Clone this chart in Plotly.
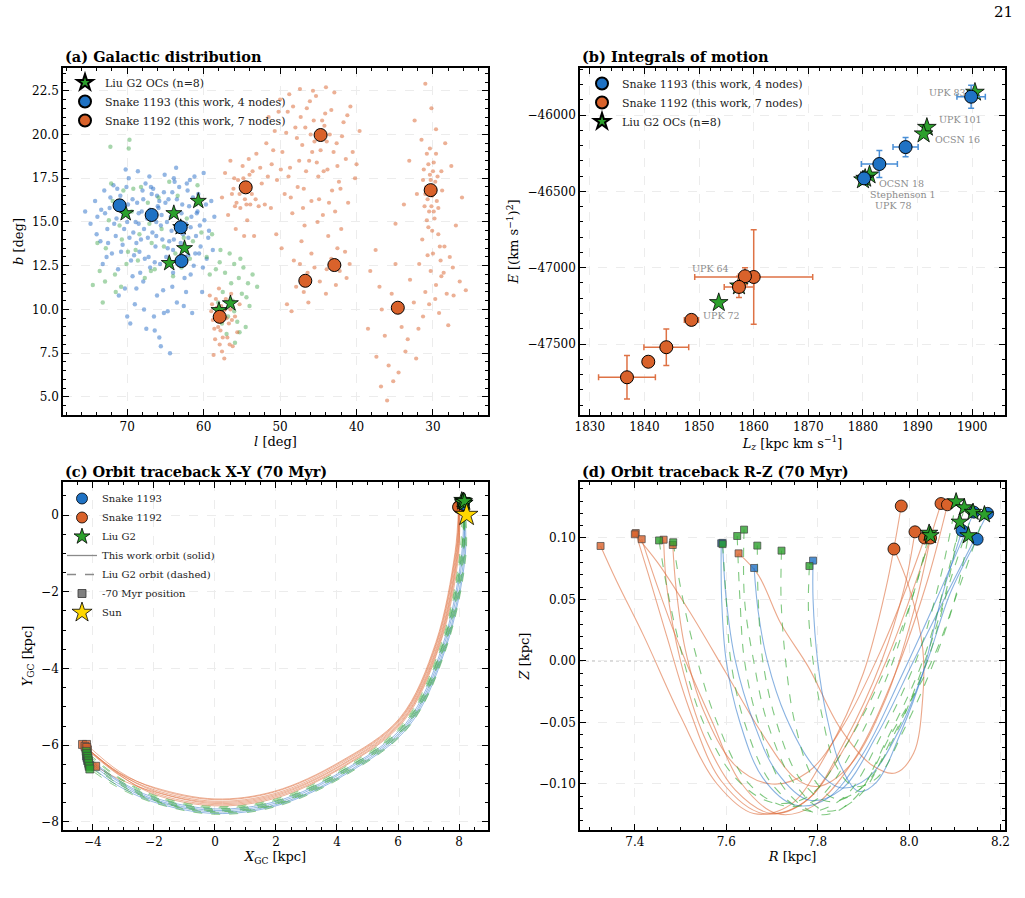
import plotly.graph_objects as go

SERIF = "DejaVu Serif"
BLUE = "#1f72c4"
ORANGE = "#d9622b"
GREEN = "#2ca02c"

# ---------------- (a) Galactic distribution ----------------
a_blue_cloud_l = [75.5,74.8,74.2,73.9,73.5,73.0,72.6,72.3,72.0,71.8,71.5,71.2,70.9,70.6,70.3,70.0,69.8,69.5,69.2,69.0,68.7,68.4,68.1,67.9,67.6,67.3,67.0,66.8,66.5,66.3,66.0,65.8,65.6,65.3,65.1,64.9,64.6,64.4,64.2,64.0,63.7,63.5,63.2,63.0,62.8,62.5,62.3,62.0,61.8,61.6,61.3,61.0,60.7,60.4,60.2,59.9,59.6,59.3,59.0,58.8,71.4,69.9,68.9,67.8,66.9,66.2,65.5,64.8,63.9,63.3,62.7,61.9,65.7,67.2,68.3,70.4,72.9,64.1,62.1,60.9,66.6,68.6,70.2,63.6,60.0,69.6,67.5,66.1,68.8,71.1,64.7,62.6,61.5,73.2,
                  74.0,73.4,72.7,72.2,71.7,71.3,70.8,70.5,70.1,69.7,69.3,68.8,68.5,68.0,67.7,67.4,67.1,66.7,66.4,66.1,65.9,65.4,65.0,64.7,64.3,63.8,63.4,63.1,62.9,62.4,62.2,61.7,61.4,61.1,60.8,60.5,60.1,59.7,59.4,58.6,69.1,67.9,66.2,65.2,64.5,63.5,62.0,61.2,68.2,70.7,72.5,66.9,64.0,62.7,60.6,65.8,67.0,68.5,63.9,61.7,
                  66.4,65.2,67.8,69.3,64.1,62.3,70.0,65.6]
a_blue_cloud_b = [15.6,14.9,16.2,15.3,13.9,16.8,14.6,15.8,13.2,17.1,14.2,12.3,16.5,13.7,11.2,15.0,17.5,12.8,14.4,10.3,16.1,13.3,15.6,11.6,17.2,14.1,12.4,16.6,9.6,13.6,15.9,8.4,14.8,11.1,17.7,13.0,16.3,7.5,14.5,12.1,15.6,10.4,17.0,13.8,16.0,11.8,14.9,13.1,17.4,15.3,12.5,14.2,16.6,13.6,11.0,15.1,12.9,14.5,16.2,13.4,15.2,16.0,15.0,14.6,15.1,14.2,15.4,15.0,14.0,12.9,13.4,15.9,12.6,13.0,12.1,14.6,15.5,16.7,16.8,15.5,16.9,17.9,18.0,18.1,17.8,9.2,8.9,10.8,11.2,10.8,9.9,10.2,9.8,12.6,
                  14.3,15.7,13.0,16.4,14.9,16.9,13.3,15.4,17.0,14.1,16.3,13.8,14.9,16.8,12.9,15.2,17.6,14.4,12.7,16.5,15.8,14.0,16.1,13.5,15.3,17.3,14.6,12.6,15.5,13.0,17.2,14.7,16.4,13.2,15.6,14.8,12.4,16.0,14.1,15.3,13.1,16.3,15.0,16.7,13.9,16.3,14.1,17.6,14.0,15.9,13.8,17.0,13.4,14.3,13.2,16.2,15.7,15.5,17.5,12.0,
                  8.8,9.8,10.0,11.9,11.3,11.0,9.6,7.9]
a_green_cloud_l = [72.2,69.8,69.7,74.5,73.2,73.6,72.8,72.1,71.6,71.0,70.5,70.1,69.4,68.9,68.2,67.7,67.1,66.4,65.9,65.2,64.5,64.0,63.4,62.9,62.2,61.4,60.8,60.3,59.6,58.9,58.4,57.8,57.2,56.6,56.0,55.4,54.8,54.2,53.6,53.0,57.5,56.2,55.0,54.0,56.8,55.6,58.1,57.0,55.9,54.5,70.8,72.4,68.6,66.8,
                   71.9,71.2,70.7,69.9,69.2,68.4,67.3,66.9,65.5,64.8,63.7,62.6,61.8,61.0,59.2,57.9,56.4,55.2,54.4,56.0,57.6,55.3,73.9,72.9,71.5]
a_green_cloud_b = [19.3,19.2,19.7,11.4,10.4,12.2,13.5,17.2,12.0,14.8,16.8,12.6,15.6,13.4,17.0,11.8,14.9,12.3,16.4,13.6,17.3,11.9,16.5,12.4,15.2,13.9,17.1,14.4,13.0,14.3,12.3,13.4,12.1,13.2,12.6,11.8,12.4,11.5,12.0,11.3,11.0,10.5,10.9,10.2,9.6,9.3,10.4,8.6,8.1,9.0,11.3,15.1,12.8,13.8,
                   16.2,15.9,14.0,13.3,16.9,14.3,16.1,12.2,14.6,12.6,13.2,14.1,12.9,16.0,12.0,12.7,11.5,12.9,10.7,9.9,9.2,8.7,13.8,11.6,11.0]
a_orange_cloud_l = [59.2,58.8,58.5,58.3,58.0,57.8,57.6,57.4,57.1,56.9,56.7,56.4,56.2,55.9,55.6,58.7,57.3,59.0,58.1,57.0,56.5,58.4,57.7,55.3,
                    57.6,57.2,56.8,56.5,56.1,55.8,55.5,55.2,54.9,54.6,54.3,54.0,53.7,53.4,53.1,52.8,52.4,52.0,55.0,54.2,55.7,53.9,56.3,54.7,
                    51.8,51.5,51.1,50.7,50.4,50.0,49.7,49.4,49.0,48.7,48.4,48.0,47.7,47.4,47.1,46.8,46.5,46.2,45.9,45.6,45.3,45.0,44.7,44.4,44.1,43.8,43.5,43.2,42.9,42.6,42.3,42.0,41.7,41.4,41.1,40.8,40.5,40.2,45.5,44.2,46.0,43.0,47.8,48.9,46.9,45.1,43.7,47.2,48.2,46.4,44.8,43.3,42.2,41.5,45.9,47.9,49.1,44.0,42.7,40.9,46.3,48.5,50.5,51.2,49.8,
                    31.0,30.2,32.4,29.6,31.5,28.4,30.8,29.9,31.2,30.4,29.7,30.9,30.1,29.5,31.1,30.5,29.8,28.8,32.1,27.6,33.1,30.6,29.3,31.4,28.5,30.0,29.0,27.8,31.8,30.3,28.9,29.6,27.4,31.0,28.2,30.5,26.5,29.2,25.7,27.0,26.2,33.8,34.9,
                    38.2,37.5,37.0,36.3,35.8,35.4,34.9,34.1,33.6,33.0,32.5,31.9,37.4,36.8,36.0,35.2,34.5,33.3,32.2,38.5,36.7,31.3,27.3,28.0,
                    58.6,57.9,57.2,56.6,58.2,57.5,56.3,58.9,
                    56.0,55.3,54.8,54.4,53.6,55.9,54.1,53.2,52.6,51.6,
                    50.2,49.2,48.3,47.5,46.7,46.1,45.2,44.5,43.9,43.3,42.5,41.9,41.2,44.9,47.0,42.8,48.6,46.6,45.8,44.3,43.6,42.1,40.0,39.6,50.9,47.3,45.7,44.0,48.8,49.9,
                    47.4,45.5,43.9,42.5,46.9,41.3,
                    30.3,29.8,30.7,30.0,29.4,31.0,30.2,29.9,30.6,29.6,30.8,30.1,29.3,31.3,28.9,30.4,29.1,30.7,28.6,29.7]
a_orange_cloud_b = [10.8,9.4,8.3,10.1,11.2,8.8,7.6,9.9,10.6,8.4,9.2,10.9,7.9,9.6,8.7,7.4,7.2,9.9,9.0,9.5,10.0,10.6,10.2,10.3,
                    16.4,17.8,15.4,18.5,16.9,14.6,17.4,15.8,18.2,16.3,15.1,17.7,16.6,14.2,18.9,15.9,17.2,16.0,16.9,17.1,16.1,16.0,16.6,14.2,
                    19.5,21.0,18.3,20.2,17.4,22.0,19.0,16.6,21.3,18.1,15.5,20.4,17.0,22.6,19.4,14.8,21.5,18.5,16.2,20.8,22.2,17.6,19.1,15.4,21.2,18.0,20.0,16.8,22.4,19.5,17.3,14.6,20.7,18.6,16.1,21.6,19.0,17.5,19.6,20.5,20.0,19.0,19.8,17.6,16.9,15.0,14.2,13.9,12.8,12.1,11.6,12.9,12.2,13.3,13.2,11.3,10.3,10.9,11.4,12.6,10.4,9.9,14.3,15.8,13.5,
                    22.9,21.5,20.8,20.3,19.7,19.5,18.9,18.4,18.0,17.7,17.3,17.0,16.5,16.2,15.9,15.6,15.2,16.8,16.6,18.2,18.5,14.7,14.3,14.0,13.6,13.2,12.8,13.0,12.6,12.2,11.9,11.4,12.4,11.0,10.9,10.3,11.6,9.8,11.1,14.8,16.4,16.0,14.9,
                    12.2,13.4,11.3,8.5,6.8,10.9,12.6,9.0,7.6,11.7,10.4,8.9,7.3,5.6,4.8,5.9,6.4,8.3,7.2,8.9,10.0,9.6,10.8,9.1,
                    8.9,8.0,10.0,8.0,9.6,8.4,9.4,10.3,
                    17.5,16.6,17.5,16.0,17.9,15.9,18.6,16.3,18.1,17.6,
                    21.3,20.1,21.6,18.5,20.4,21.9,18.4,20.8,19.6,21.4,18.2,19.9,21.1,16.3,15.8,15.6,16.4,17.9,19.0,17.9,16.1,16.9,18.3,20.2,19.1,21.0,22.5,22.7,22.3,18.0,
                    12.6,12.4,12.3,13.5,11.0,11.8,
                    17.4,16.9,16.3,17.9,17.6,16.6,15.9,15.6,18.3,18.9,15.1,14.5,15.8,17.4,17.9,19.2,13.6,13.1,12.1,10.6]
a_liu_l = [70.2, 63.9, 60.7, 62.5, 64.5, 56.5, 58.0, 63.0]
a_liu_b = [15.5, 15.5, 16.2, 13.5, 12.65, 10.35, 9.96, 14.7]
a_s1193_l = [71.0, 66.8, 63.0, 62.9]
a_s1193_b = [15.95, 15.4, 14.7, 12.77]
a_s1192_l = [54.5, 44.7, 30.3, 57.9, 46.7, 42.9, 34.6]
a_s1192_b = [16.98, 19.97, 16.82, 9.58, 11.64, 12.54, 10.1]

# ---------------- (b) Integrals of motion ----------------
b_s1193_Lz = [1899.8, 1887.8, 1883.0, 1880.2]
b_s1193_E = [-45880, -46210, -46321, -46415]
b_s1193_Lz_err = [2.6, 2.3, 3.3, 0.8]
b_s1193_E_err = [75, 63, 89, 20]
b_s1192_Lz = [1860.0, 1858.4, 1857.3, 1848.6, 1844.0, 1840.7, 1836.8]
b_s1192_E = [-47061, -47056, -47126, -47342, -47521, -47616, -47718]
b_s1192_Lz_err = [10.8, 1.2, 2.7, 1.3, 4.1, 1.0, 5.2]
b_s1192_E_err = [310, 55, 70, 25, 119, 20, 143]
b_liu_names = ["UPK 83", "UPK 101", "OCSN 16", "OCSN 18", "Stephenson 1", "UPK 78", "UPK 64", "UPK 72"]
b_liu_Lz = [1900.5, 1891.7, 1891.1, 1881.2, 1880.4, 1880.0, 1857.3, 1853.6]
b_liu_E = [-45851, -46081, -46124, -46393, -46415, -46425, -47120, -47229]

# ---------------- (c) Orbit traceback X-Y (present -> -70 Myr) ----------------
c_s1192_X = [
    [7.98, 7.87, 7.24, 6.06, 4.10, 1.95, 0.00, -1.95, -3.13, -4.34],
    [8.00, 7.89, 7.26, 6.08, 4.11, 1.95, 0.00, -1.96, -3.12, -4.21],
    [8.02, 7.91, 7.28, 6.10, 4.12, 1.96, 0.00, -1.96, -3.14, -4.23],
    [7.99, 7.93, 7.31, 6.12, 4.14, 1.97, 0.00, -1.97, -3.14, -4.26],
    [8.01, 7.95, 7.33, 6.14, 4.15, 1.97, 0.00, -1.97, -3.20, -3.91],
    [8.03, 7.97, 7.35, 6.15, 4.17, 1.98, 0.00, -1.98, -3.16, -4.18],
    [7.97, 7.99, 7.37, 6.17, 4.18, 1.99, 0.00, -1.99, -3.15, -4.20]]
c_s1192_Y = [
    [0.19, -0.97, -3.32, -5.29, -6.43, -7.20, -7.40, -7.11, -6.72, -5.98],
    [0.22, -0.97, -3.33, -5.30, -6.45, -7.22, -7.42, -7.13, -6.69, -5.98],
    [0.18, -0.98, -3.34, -5.31, -6.48, -7.26, -7.46, -7.17, -6.74, -6.08],
    [0.24, -0.98, -3.35, -5.33, -6.51, -7.29, -7.49, -7.20, -6.73, -6.03],
    [0.20, -0.99, -3.36, -5.35, -6.53, -7.32, -7.52, -7.22, -6.86, -6.55],
    [0.23, -0.99, -3.38, -5.37, -6.56, -7.35, -7.55, -7.25, -6.77, -6.12],
    [0.21, -1.00, -3.39, -5.39, -6.58, -7.38, -7.58, -7.28, -6.76, -6.06]]
c_s1193_X = [
    [8.14, 8.09, 7.45, 6.25, 4.23, 2.02, 0.00, -2.02, -3.21, -4.21],
    [8.16, 8.13, 7.49, 6.28, 4.25, 2.03, 0.00, -2.03, -3.22, -4.19],
    [8.12, 8.17, 7.53, 6.31, 4.28, 2.04, 0.00, -2.04, -3.25, -4.17],
    [8.15, 8.21, 7.56, 6.34, 4.30, 2.05, 0.00, -2.05, -3.27, -4.12]]
c_s1193_Y = [
    [0.32, -1.01, -3.43, -5.44, -6.65, -7.46, -7.66, -7.36, -6.89, -6.28],
    [0.29, -1.01, -3.44, -5.47, -6.68, -7.50, -7.70, -7.40, -6.92, -6.33],
    [0.30, -1.02, -3.46, -5.49, -6.72, -7.54, -7.74, -7.43, -6.96, -6.40],
    [0.27, -1.02, -3.48, -5.52, -6.75, -7.57, -7.78, -7.47, -7.01, -6.52]]
c_liu_X = [
    [8.09, 8.03, 7.40, 6.20, 4.20, 2.00, 0.00, -2.00, -3.18, -4.22],
    [8.20, 8.06, 7.43, 6.22, 4.22, 2.01, 0.00, -2.01, -3.19, -4.20],
    [8.12, 8.08, 7.45, 6.24, 4.23, 2.01, 0.00, -2.01, -3.21, -4.17],
    [8.15, 8.11, 7.47, 6.26, 4.24, 2.02, 0.00, -2.02, -3.22, -4.16],
    [8.17, 8.14, 7.50, 6.28, 4.26, 2.03, 0.00, -2.03, -3.24, -4.15],
    [8.11, 8.16, 7.52, 6.30, 4.27, 2.03, 0.00, -2.03, -3.25, -4.14],
    [8.14, 8.19, 7.55, 6.32, 4.29, 2.04, 0.00, -2.04, -3.27, -4.12],
    [8.18, 8.23, 7.58, 6.35, 4.31, 2.05, 0.00, -2.05, -3.29, -4.10]]
c_liu_Y = [
    [0.39, -1.00, -3.40, -5.40, -6.60, -7.40, -7.60, -7.30, -6.82, -6.16],
    [0.32, -1.00, -3.41, -5.42, -6.63, -7.43, -7.63, -7.33, -6.84, -6.22],
    [0.36, -1.01, -3.42, -5.43, -6.64, -7.45, -7.65, -7.35, -6.88, -6.29],
    [0.34, -1.01, -3.43, -5.45, -6.67, -7.48, -7.68, -7.38, -6.91, -6.35],
    [0.30, -1.01, -3.45, -5.47, -6.69, -7.51, -7.71, -7.41, -6.94, -6.41],
    [0.33, -1.02, -3.45, -5.49, -6.71, -7.53, -7.73, -7.43, -6.97, -6.47],
    [0.38, -1.02, -3.47, -5.51, -6.74, -7.55, -7.76, -7.45, -7.01, -6.55],
    [0.36, -1.02, -3.48, -5.53, -6.77, -7.59, -7.80, -7.49, -7.05, -6.62]]
sun_X = [8.25]
sun_Y = [0.0]

# ---------------- (d) Orbit traceback R-Z (-70 Myr -> present) ----------------
d_s1192_R = [
    [7.325, 7.36, 7.42, 7.50, 7.58, 7.66, 7.74, 7.82, 7.90, 7.95, 7.983],
    [7.402, 7.43, 7.47, 7.52, 7.59, 7.68, 7.77, 7.86, 7.95, 8.02, 8.070],
    [7.415, 7.45, 7.50, 7.57, 7.63, 7.71, 7.79, 7.88, 7.97, 8.04, 8.084],
    [7.463, 7.47, 7.50, 7.55, 7.62, 7.70, 7.78, 7.86, 7.94, 7.99, 8.013],
    [7.627, 7.67, 7.72, 7.78, 7.85, 7.92, 7.97, 8.01, 8.03, 8.03, 8.00, 7.967],
    [7.483, 7.49, 7.51, 7.55, 7.62, 7.70, 7.78, 7.86, 7.94, 8.00, 8.034],
    [7.400, 7.45, 7.52, 7.60, 7.68, 7.75, 7.80, 7.87, 7.95, 8.01, 8.047]]
d_s1192_Z = [
    [0.0935, 0.065, 0.02, -0.045, -0.100, -0.124, -0.117, -0.075, -0.010, 0.060, 0.126],
    [0.104, 0.07, 0.02, -0.04, -0.098, -0.124, -0.115, -0.07, 0.000, 0.070, 0.128],
    [0.099, 0.06, 0.01, -0.05, -0.098, -0.124, -0.118, -0.08, -0.010, 0.065, 0.127],
    [0.0986, 0.06, 0.00, -0.06, -0.105, -0.124, -0.112, -0.065, 0.000, 0.060, 0.105],
    [0.0875, 0.07, 0.03, -0.005, -0.055, -0.085, -0.091, -0.075, -0.03, 0.01, 0.06, 0.091],
    [0.0943, 0.06, 0.01, -0.04, -0.085, -0.100, -0.090, -0.05, 0.01, 0.065, 0.100],
    [0.103, 0.08, 0.04, -0.01, -0.06, -0.095, -0.102, -0.085, -0.03, 0.040, 0.100]]
d_s1193_R = [
    [7.589, 7.59, 7.60, 7.63, 7.68, 7.75, 7.82, 7.90, 7.98, 8.06, 8.142],
    [7.592, 7.60, 7.62, 7.66, 7.71, 7.78, 7.85, 7.93, 8.01, 8.09, 8.172],
    [7.661, 7.67, 7.69, 7.73, 7.79, 7.85, 7.91, 7.98, 8.04, 8.09, 8.149],
    [7.790, 7.79, 7.80, 7.82, 7.85, 7.89, 7.93, 7.98, 8.03, 8.07, 8.116]]
d_s1193_Z = [
    [0.0957, 0.05, 0.00, -0.05, -0.095, -0.117, -0.112, -0.075, -0.015, 0.050, 0.121],
    [0.096, 0.05, 0.00, -0.05, -0.09, -0.113, -0.105, -0.06, 0.000, 0.060, 0.120],
    [0.0756, 0.04, 0.00, -0.045, -0.085, -0.103, -0.095, -0.055, 0.000, 0.055, 0.099],
    [0.0816, 0.05, 0.00, -0.045, -0.085, -0.106, -0.098, -0.06, -0.01, 0.050, 0.106]]
d_liu_R = [
    [7.453, 7.47, 7.50, 7.55, 7.62, 7.70, 7.78, 7.86, 7.95, 8.01, 8.044],
    [7.484, 7.50, 7.53, 7.58, 7.65, 7.73, 7.80, 7.88, 7.96, 8.01, 8.047],
    [7.592, 7.60, 7.61, 7.64, 7.70, 7.78, 7.86, 7.94, 8.02, 8.07, 8.103],
    [7.624, 7.63, 7.64, 7.67, 7.73, 7.81, 7.88, 7.95, 8.03, 8.08, 8.121],
    [7.639, 7.64, 7.66, 7.69, 7.75, 7.82, 7.89, 7.96, 8.04, 8.09, 8.140],
    [7.668, 7.67, 7.68, 7.71, 7.76, 7.82, 7.89, 7.96, 8.05, 8.11, 8.165],
    [7.721, 7.72, 7.73, 7.75, 7.79, 7.84, 7.90, 7.97, 8.03, 8.08, 8.111],
    [7.782, 7.78, 7.79, 7.81, 7.84, 7.88, 7.93, 7.99, 8.05, 8.10, 8.130]]
d_liu_Z = [
    [0.098, 0.06, 0.01, -0.05, -0.095, -0.115, -0.110, -0.07, -0.005, 0.055, 0.104],
    [0.0965, 0.06, 0.01, -0.05, -0.100, -0.118, -0.112, -0.07, -0.005, 0.055, 0.102],
    [0.095, 0.05, 0.00, -0.05, -0.100, -0.122, -0.110, -0.06, 0.005, 0.070, 0.1295],
    [0.1016, 0.05, 0.00, -0.05, -0.105, -0.125, -0.112, -0.065, 0.000, 0.065, 0.1247],
    [0.1068, 0.05, 0.00, -0.05, -0.100, -0.122, -0.110, -0.065, 0.000, 0.065, 0.121],
    [0.0938, 0.05, 0.00, -0.05, -0.095, -0.114, -0.105, -0.06, 0.000, 0.060, 0.119],
    [0.0897, 0.05, 0.00, -0.05, -0.095, -0.112, -0.102, -0.06, -0.005, 0.055, 0.113],
    [0.0772, 0.04, 0.00, -0.045, -0.085, -0.102, -0.095, -0.055, -0.005, 0.050, 0.102]]

W, H = 1025, 898

def px_x(p):
    return p / W

def px_y(p):
    return (H - p) / H

fig = go.Figure()

# ----- (a) -----
fig.add_trace(go.Scatter(x=a_blue_cloud_l, y=a_blue_cloud_b, mode="markers", xaxis="x", yaxis="y",
                         marker=dict(size=4.4, color="rgba(40,110,200,0.5)", line=dict(width=0)),
                         showlegend=False, hoverinfo="skip"))
fig.add_trace(go.Scatter(x=a_green_cloud_l, y=a_green_cloud_b, mode="markers", xaxis="x", yaxis="y",
                         marker=dict(size=4.4, color="rgba(60,165,70,0.45)", line=dict(width=0)),
                         showlegend=False, hoverinfo="skip"))
fig.add_trace(go.Scatter(x=a_orange_cloud_l, y=a_orange_cloud_b, mode="markers", xaxis="x", yaxis="y",
                         marker=dict(size=4.2, color="rgba(217,98,43,0.5)", line=dict(width=0)),
                         showlegend=False, hoverinfo="skip"))
fig.add_trace(go.Scatter(x=a_liu_l, y=a_liu_b, mode="markers", xaxis="x", yaxis="y", name="Liu G2 OCs (n=8)",
                         marker=dict(symbol="star", size=12, color=GREEN, line=dict(color="black", width=0.8)),
                         legend="legend"))
fig.add_trace(go.Scatter(x=a_s1193_l, y=a_s1193_b, mode="markers", xaxis="x", yaxis="y",
                         name="Snake 1193 (this work, 4 nodes)",
                         marker=dict(symbol="circle", size=13, color=BLUE, line=dict(color="black", width=1)),
                         legend="legend"))
fig.add_trace(go.Scatter(x=a_s1192_l, y=a_s1192_b, mode="markers", xaxis="x", yaxis="y",
                         name="Snake 1192 (this work, 7 nodes)",
                         marker=dict(symbol="circle", size=13, color=ORANGE, line=dict(color="black", width=1)),
                         legend="legend"))

# ----- (b) -----
fig.add_trace(go.Scatter(x=b_liu_Lz, y=b_liu_E, mode="markers", xaxis="x2", yaxis="y2", name="Liu G2 OCs (n=8)",
                         marker=dict(symbol="star", size=14, color=GREEN, line=dict(color="black", width=0.8)),
                         legend="legend2", legendrank=3))
fig.add_trace(go.Scatter(x=b_s1193_Lz, y=b_s1193_E, mode="markers", xaxis="x2", yaxis="y2",
                         name="Snake 1193 (this work, 4 nodes)",
                         error_x=dict(type="data", array=b_s1193_Lz_err, color="#4a8fd6", thickness=1.5, width=3),
                         error_y=dict(type="data", array=b_s1193_E_err, color="#4a8fd6", thickness=1.5, width=3),
                         marker=dict(symbol="circle", size=13, color=BLUE, line=dict(color="black", width=1)),
                         legend="legend2", legendrank=1))
fig.add_trace(go.Scatter(x=b_s1192_Lz, y=b_s1192_E, mode="markers", xaxis="x2", yaxis="y2",
                         name="Snake 1192 (this work, 7 nodes)",
                         error_x=dict(type="data", array=b_s1192_Lz_err, color="#de7245", thickness=1.5, width=3),
                         error_y=dict(type="data", array=b_s1192_E_err, color="#de7245", thickness=1.5, width=3),
                         marker=dict(symbol="circle", size=13, color=ORANGE, line=dict(color="black", width=1)),
                         legend="legend2", legendrank=2))

b_label_place = {
    "UPK 83": ("right", -7, 0),
    "UPK 101": ("left", 10, 8),
    "OCSN 16": ("left", 9, -6),
    "OCSN 18": ("left", 7, -8),
    "Stephenson 1": ("left", 3, -16),
    "UPK 78": ("left", 10, -26),
    "UPK 64": ("right", -8, 18),
    "UPK 72": ("left", -18, -13),
}
for nm, lz, e in zip(b_liu_names, b_liu_Lz, b_liu_E):
    anc, xs, ys = b_label_place[nm]
    fig.add_annotation(x=lz, y=e, xref="x2", yref="y2", text=nm, showarrow=False,
                       xanchor=anc, yanchor="middle", xshift=xs, yshift=ys,
                       font=dict(family=SERIF, size=9.5, color="#8c8c8c"))

# ----- (c) -----
def add_orbits(xs, ys, color, dash, xa, ya, width=1.0):
    for x, y in zip(xs, ys):
        fig.add_trace(go.Scatter(x=x, y=y, mode="lines", xaxis=xa, yaxis=ya, showlegend=False,
                                 hoverinfo="skip",
                                 line=dict(color=color, width=width, dash=dash, shape="spline", smoothing=1.0)))

OR_LINE = "rgba(221,110,62,0.6)"
BL_LINE = "rgba(40,115,200,0.55)"
GR_LINE = "rgba(60,170,60,0.65)"

add_orbits(c_s1192_X, c_s1192_Y, OR_LINE, "solid", "x3", "y3", 0.9)
add_orbits(c_s1193_X, c_s1193_Y, BL_LINE, "solid", "x3", "y3", 0.9)
add_orbits(c_liu_X, c_liu_Y, GR_LINE, "dash", "x3", "y3", 0.9)

def ends(lists, idx):
    return [l[idx] for l in lists]

for xs, ys, col in [(c_s1192_X, c_s1192_Y, "rgba(217,98,43,0.8)"),
                    (c_s1193_X, c_s1193_Y, "rgba(31,114,196,0.8)"),
                    (c_liu_X, c_liu_Y, "rgba(44,160,44,0.8)")]:
    fig.add_trace(go.Scatter(x=ends(xs, -1), y=ends(ys, -1), mode="markers", xaxis="x3", yaxis="y3",
                             showlegend=False, marker=dict(symbol="square", size=8, color=col,
                                                           line=dict(color="#444444", width=0.7))))
fig.add_trace(go.Scatter(x=ends(c_s1192_X, 0), y=ends(c_s1192_Y, 0), mode="markers", xaxis="x3", yaxis="y3",
                         showlegend=False, marker=dict(size=11, color=ORANGE, line=dict(color="black", width=0.8))))
fig.add_trace(go.Scatter(x=ends(c_s1193_X, 0), y=ends(c_s1193_Y, 0), mode="markers", xaxis="x3", yaxis="y3",
                         showlegend=False, marker=dict(size=11, color=BLUE, line=dict(color="black", width=0.8))))
fig.add_trace(go.Scatter(x=ends(c_liu_X, 0), y=ends(c_liu_Y, 0), mode="markers", xaxis="x3", yaxis="y3",
                         showlegend=False, marker=dict(symbol="star", size=12, color=GREEN, line=dict(color="black", width=0.8))))
fig.add_trace(go.Scatter(x=sun_X, y=sun_Y, mode="markers", xaxis="x3", yaxis="y3", showlegend=False,
                         marker=dict(symbol="star", size=17, color="#FFD700", line=dict(color="black", width=0.8))))

leg3 = [
    ("Snake 1193", dict(mode="markers", marker=dict(size=11, color=BLUE, line=dict(color="black", width=0.8)))),
    ("Snake 1192", dict(mode="markers", marker=dict(size=11, color=ORANGE, line=dict(color="black", width=0.8)))),
    ("Liu G2", dict(mode="markers", marker=dict(symbol="star", size=12, color=GREEN, line=dict(color="black", width=0.8)))),
    ("This work orbit (solid)", dict(mode="lines", line=dict(color="#8a8a8a", width=1.3))),
    ("Liu G2 orbit (dashed)", dict(mode="lines", line=dict(color="#8a8a8a", width=1.3, dash="dash"))),
    ("-70 Myr position", dict(mode="markers", marker=dict(symbol="square", size=8, color="#808080", line=dict(color="#333333", width=0.8)))),
    ("Sun", dict(mode="markers", marker=dict(symbol="star", size=15, color="#FFD700", line=dict(color="black", width=0.8)))),
]
for i, (nm, kw) in enumerate(leg3):
    fig.add_trace(go.Scatter(x=[None], y=[None], xaxis="x3", yaxis="y3", name=nm, legend="legend3",
                             legendrank=i + 1, **kw))

# ----- (d) -----
add_orbits(d_s1192_R, d_s1192_Z, OR_LINE, "solid", "x4", "y4", 1.1)
add_orbits(d_s1193_R, d_s1193_Z, BL_LINE, "solid", "x4", "y4", 1.1)
add_orbits(d_liu_R, d_liu_Z, GR_LINE, "dash", "x4", "y4", 1.1)
for rs, zs, col in [(d_s1192_R, d_s1192_Z, "rgba(217,98,43,0.8)"),
                    (d_s1193_R, d_s1193_Z, "rgba(31,114,196,0.8)"),
                    (d_liu_R, d_liu_Z, "rgba(44,160,44,0.8)")]:
    fig.add_trace(go.Scatter(x=ends(rs, 0), y=ends(zs, 0), mode="markers", xaxis="x4", yaxis="y4",
                             showlegend=False, marker=dict(symbol="square", size=7, color=col,
                                                           line=dict(color="#444444", width=0.7))))
fig.add_trace(go.Scatter(x=ends(d_s1192_R, -1), y=ends(d_s1192_Z, -1), mode="markers", xaxis="x4", yaxis="y4",
                         showlegend=False, marker=dict(size=12, color=ORANGE, line=dict(color="black", width=0.8))))
fig.add_trace(go.Scatter(x=ends(d_s1193_R, -1), y=ends(d_s1193_Z, -1), mode="markers", xaxis="x4", yaxis="y4",
                         showlegend=False, marker=dict(size=12, color=BLUE, line=dict(color="black", width=0.8))))
fig.add_trace(go.Scatter(x=ends(d_liu_R, -1), y=ends(d_liu_Z, -1), mode="markers", xaxis="x4", yaxis="y4",
                         showlegend=False, marker=dict(symbol="star", size=13, color=GREEN, line=dict(color="black", width=0.8))))

fig.add_shape(type="line", xref="x4 domain", yref="y4", x0=0, x1=1, y0=0, y1=0,
              line=dict(color="#b0b0b0", width=0.9, dash="dot"), layer="below")

# ----- axes -----
def axis(dom, rng, anchor, dtick, minor_dtick, title, standoff, fmt=None, tick0=None):
    d = dict(domain=dom, range=rng, anchor=anchor, showline=True, linecolor="black", linewidth=1.6,
             mirror="allticks", ticks="inside", ticklen=6, tickwidth=1.1, tickcolor="black",
             showgrid=True, gridcolor="#ececec", griddash="dash", gridwidth=0.8, zeroline=False,
             tickfont=dict(family=SERIF, size=12, color="black"), automargin=False,
             dtick=dtick, minor=dict(ticks="inside", ticklen=3, tickwidth=0.8, tickcolor="black",
                                     dtick=minor_dtick, showgrid=False),
             title=dict(text=title, font=dict(family=SERIF, size=13, color="black"), standoff=standoff))
    if fmt:
        d["tickformat"] = fmt
    if tick0 is not None:
        d["tick0"] = tick0
    return d

XL = [px_x(63), px_x(488)]
XR = [px_x(580), px_x(1005)]
YT = [px_y(415), px_y(68)]
YB = [px_y(830), px_y(482)]

fig.update_layout(
    width=W, height=H, margin=dict(l=0, r=0, t=0, b=0),
    paper_bgcolor="white", plot_bgcolor="white",
    font=dict(family=SERIF, color="black"),
    xaxis=axis(XL, [78.4, 22.8], "y", 10, 2, "<i>l</i> [deg]", 4, tick0=0),
    yaxis=axis(YT, [3.97, 23.8], "x", 2.5, 0.5, "<i>b</i> [deg]", 6, fmt=".1f", tick0=0),
    xaxis2=axis(XR, [1828.2, 1906], "y2", 10, 2, "<i>L<sub>z</sub></i> [kpc km s<sup>−1</sup>]", 4, fmt="d", tick0=1800),
    yaxis2=axis(YT, [-47965, -45692], "x2", 500, 100, "<i>E</i> [(km s<sup>−1</sup>)<sup>2</sup>]", 6, fmt="d", tick0=0),
    xaxis3=axis(XL, [-4.98, 8.95], "y3", 2, 0.5, "<i>X</i><sub>GC</sub> [kpc]", 4, tick0=0),
    yaxis3=axis(YB, [-8.21, 0.86], "x3", 2, 0.5, "<i>Y</i><sub>GC</sub> [kpc]", 6, tick0=0),
    xaxis4=axis(XR, [7.28, 8.21], "y4", 0.2, 0.05, "<i>R</i> [kpc]", 4, fmt=".1f", tick0=0),
    yaxis4=axis(YB, [-0.1374, 0.1455], "x4", 0.05, 0.01, "<i>Z</i> [kpc]", 6, fmt=".2f", tick0=0),
    legend=dict(x=px_x(65), y=px_y(68), xanchor="left", yanchor="top", bgcolor="rgba(255,255,255,0)",
                font=dict(family=SERIF, size=11, color="#222"), borderwidth=0, itemsizing="constant"),
    legend2=dict(x=px_x(582), y=px_y(69), xanchor="left", yanchor="top", bgcolor="rgba(255,255,255,0)",
                 font=dict(family=SERIF, size=11, color="#222"), borderwidth=0, itemsizing="constant",
                 traceorder="normal"),
    legend3=dict(x=px_x(62), y=px_y(484), xanchor="left", yanchor="top", bgcolor="rgba(255,255,255,0)",
                 font=dict(family=SERIF, size=10, color="#222"), borderwidth=0, itemsizing="trace",
                 traceorder="normal"),
)

for txt, x, y in [("(a) Galactic distribution", 63, 56), ("(b) Integrals of motion", 580, 56),
                  ("(c) Orbit traceback X-Y (70 Myr)", 63, 471), ("(d) Orbit traceback R-Z (70 Myr)", 580, 471)]:
    fig.add_annotation(x=px_x(x), y=px_y(y), xref="paper", yref="paper", text="<b>" + txt + "</b>",
                       showarrow=False, xanchor="left", yanchor="middle",
                       font=dict(family=SERIF, size=14.5, color="black"))

fig.add_annotation(x=px_x(1003), y=px_y(12), xref="paper", yref="paper", text="21", showarrow=False,
                   xanchor="center", yanchor="middle", font=dict(family="DejaVu Serif", size=15, color="black"))

fig.write_html("out.html")
